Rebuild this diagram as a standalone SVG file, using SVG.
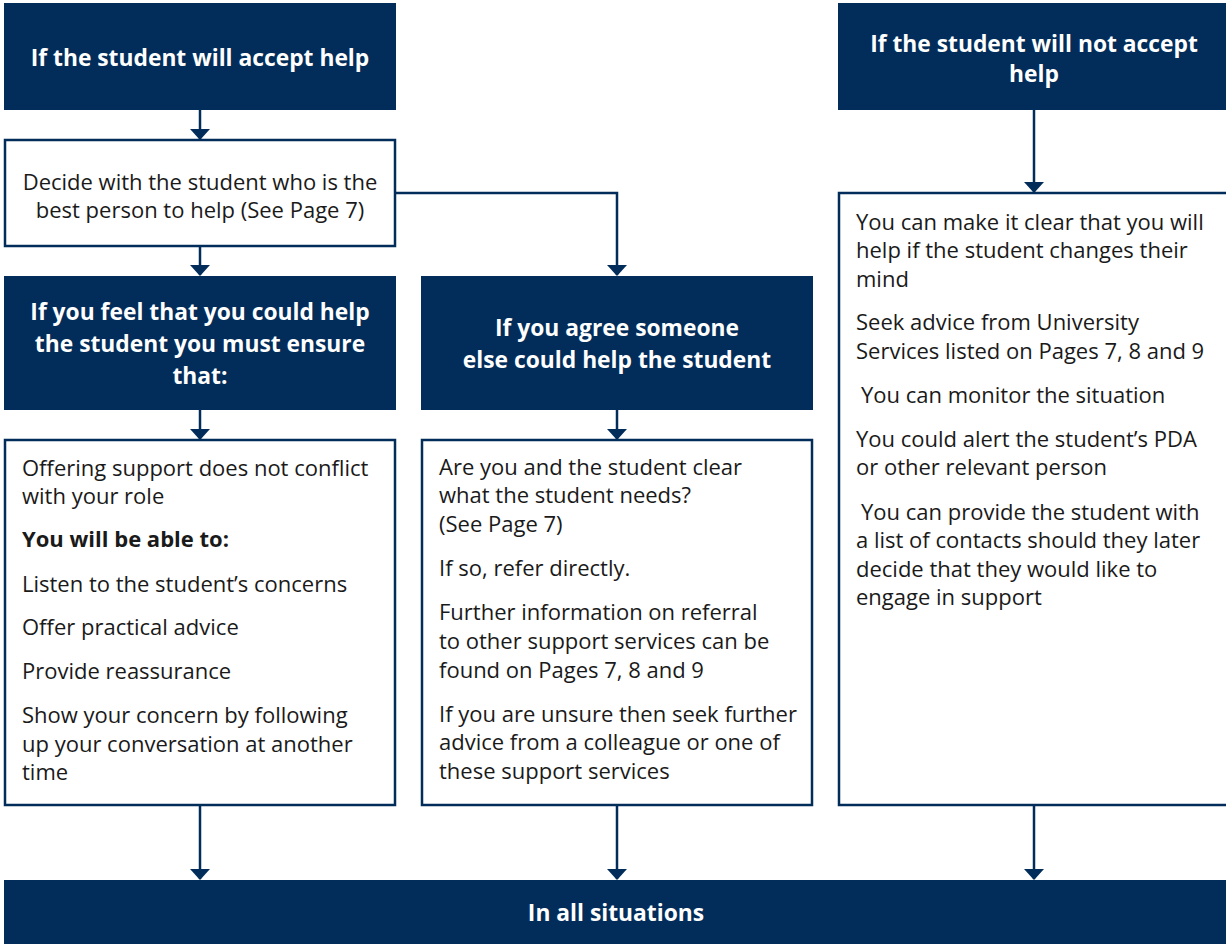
<svg xmlns="http://www.w3.org/2000/svg" width="1226" height="944" viewBox="0 0 1226 944">
<defs>
<style>
.dark{fill:#022d5a;}
.box{fill:#fff;stroke:#022d5a;stroke-width:2.5;}
.h{font-family:"Open Sans","Noto Sans",sans-serif;font-weight:bold;font-size:22.8px;fill:#fff;text-anchor:middle;}
.t{font-family:"Open Sans","Noto Sans",sans-serif;font-size:22px;fill:#1a1a1a;}
.tb{font-weight:bold;}
.c{text-anchor:middle;}
.con{fill:none;stroke:#022d5a;stroke-width:2.5;}
</style>
<marker id="ah" markerUnits="userSpaceOnUse" markerWidth="11" markerHeight="20" viewBox="0 0 11 20" refX="10" refY="10" orient="auto">
<path d="M0,0 L11,10 L0,20 Z" fill="#022d5a"/>
</marker>
</defs>
<rect width="1226" height="944" fill="#fff"/>

<g id="connectors">
<path class="con" d="M200,110 V139" marker-end="url(#ah)"/>
<path class="con" d="M200,246 V275" marker-end="url(#ah)"/>
<path class="con" d="M395,193 H617 V275" marker-end="url(#ah)"/>
<path class="con" d="M200,410 V439" marker-end="url(#ah)"/>
<path class="con" d="M617,410 V439" marker-end="url(#ah)"/>
<path class="con" d="M1034,110 V192" marker-end="url(#ah)"/>
<path class="con" d="M200,805 V879" marker-end="url(#ah)"/>
<path class="con" d="M617,805 V879" marker-end="url(#ah)"/>
<path class="con" d="M1034,805 V879" marker-end="url(#ah)"/>
</g>

<g id="accept">
<rect class="dark" x="4" y="3" width="392" height="107"/>
<text class="h" x="200" y="66">If the student will accept help</text>
</g>

<g id="notaccept">
<rect class="dark" x="838" y="3" width="388" height="107"/>
<text class="h" x="1034" y="52">If the student will not accept</text>
<text class="h" x="1034" y="82">help</text>
</g>

<g id="decide">
<rect class="box" x="5" y="140" width="390" height="106"/>
<text class="t c" x="200" y="190">Decide with the student who is the</text>
<text class="t c" x="200" y="218">best person to help (See Page 7)</text>
</g>

<g id="feel">
<rect class="dark" x="4" y="276" width="392" height="134"/>
<text class="h" x="200" y="320">If you feel that you could help</text>
<text class="h" x="200" y="352">the student you must ensure</text>
<text class="h" x="200" y="384">that:</text>
</g>

<g id="agree">
<rect class="dark" x="421" y="276" width="392" height="134"/>
<text class="h" x="617" y="336">If you agree someone</text>
<text class="h" x="617" y="368">else could help the student</text>
</g>

<g id="ensure">
<rect class="box" x="5" y="440" width="390" height="365"/>
<text class="t" x="22" y="476">Offering support does not conflict</text>
<text class="t" x="22" y="504">with your role</text>
<text class="t tb" x="22" y="547">You will be able to:</text>
<text class="t" x="22" y="592">Listen to the student’s concerns</text>
<text class="t" x="22" y="635">Offer practical advice</text>
<text class="t" x="22" y="679">Provide reassurance</text>
<text class="t" x="22" y="723">Show your concern by following</text>
<text class="t" x="22" y="752">up your conversation at another</text>
<text class="t" x="22" y="780">time</text>
</g>

<g id="refer">
<rect class="box" x="422" y="440" width="390" height="365"/>
<text class="t" x="439" y="475">Are you and the student clear</text>
<text class="t" x="439" y="503">what the student needs?</text>
<text class="t" x="439" y="532">(See Page 7)</text>
<text class="t" x="439" y="576">If so, refer directly.</text>
<text class="t" x="439" y="620">Further information on referral</text>
<text class="t" x="439" y="649">to other support services can be</text>
<text class="t" x="439" y="678">found on Pages 7, 8 and 9</text>
<text class="t" x="439" y="722">If you are unsure then seek further</text>
<text class="t" x="439" y="750">advice from a colleague or one of</text>
<text class="t" x="439" y="779">these support services</text>
</g>

<g id="options">
<rect class="box" x="839" y="193" width="390" height="612"/>
<text class="t" x="856" y="230">You can make it clear that you will</text>
<text class="t" x="856" y="258">help if the student changes their</text>
<text class="t" x="856" y="287">mind</text>
<text class="t" x="856" y="330">Seek advice from University</text>
<text class="t" x="856" y="359">Services listed on Pages 7, 8 and 9</text>
<text class="t" x="861" y="403">You can monitor the situation</text>
<text class="t" x="856" y="447">You could alert the student’s PDA</text>
<text class="t" x="856" y="475">or other relevant person</text>
<text class="t" x="861" y="520">You can provide the student with</text>
<text class="t" x="856" y="548">a list of contacts should they later</text>
<text class="t" x="856" y="577">decide that they would like to</text>
<text class="t" x="856" y="605">engage in support</text>
</g>

<g id="all">
<rect class="dark" x="4" y="880" width="1222" height="64"/>
<text class="h" x="616" y="921">In all situations</text>
</g>
</svg>
